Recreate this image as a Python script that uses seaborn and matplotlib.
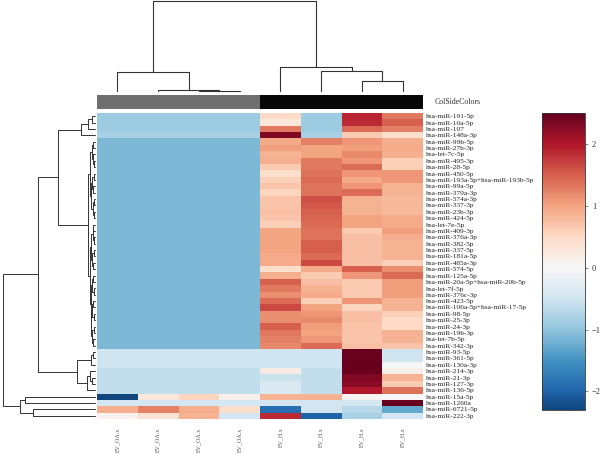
import numpy as np
import pandas as pd
import matplotlib
matplotlib.use("Agg")
import matplotlib.pyplot as plt
from matplotlib.colors import ListedColormap
import seaborn as sns

sns.set_theme(style="white")
plt.rcParams['font.family'] = ['Liberation Serif', 'DejaVu Serif']

samples = ["EV_OA.x", "EV_OA.x", "EV_OA.x", "EV_OA.x", "EV_H.x", "EV_H.x", "EV_H.x", "EV_H.x"]
groups = ["OA", "OA", "OA", "OA", "H", "H", "H", "H"]
group_colors = {"OA": "#6f6f6f", "H": "#070707"}

mirnas = [
    "hsa-miR-191-5p", "hsa-miR-10a-5p", "hsa-miR-107", "hsa-miR-148a-3p",
    "hsa-miR-99b-5p", "hsa-miR-27b-3p", "hsa-let-7c-5p", "hsa-miR-495-3p",
    "hsa-miR-28-5p", "hsa-miR-450-5p", "hsa-miR-193a-5p+hsa-miR-193b-5p",
    "hsa-miR-99a-5p", "hsa-miR-379a-3p", "hsa-miR-574a-3p", "hsa-miR-337-3p",
    "hsa-miR-23b-3p", "hsa-miR-424-5p", "hsa-let-7e-5p", "hsa-miR-409-3p",
    "hsa-miR-376a-3p", "hsa-miR-382-5p", "hsa-miR-337-5p", "hsa-miR-181a-5p",
    "hsa-miR-485a-3p", "hsa-miR-574-5p", "hsa-miR-125a-5p",
    "hsa-miR-20a-5p+hsa-miR-20b-5p", "hsa-let-7f-5p", "hsa-miR-376c-3p",
    "hsa-miR-423-5p", "hsa-miR-106a-5p+hsa-miR-17-5p", "hsa-miR-98-5p",
    "hsa-miR-25-3p", "hsa-miR-24-3p", "hsa-miR-19b-3p", "hsa-let-7b-5p",
    "hsa-miR-342-3p", "hsa-miR-93-5p", "hsa-miR-361-5p", "hsa-miR-130a-3p",
    "hsa-miR-214-3p", "hsa-miR-21-3p", "hsa-miR-127-3p", "hsa-miR-136-5p",
    "hsa-miR-15a-5p", "hsa-miR-1260a", "hsa-miR-6721-5p", "hsa-miR-222-3p",
]

# row z-scores, one list per sample (rows in the order above)
ev_oa_1 = [-0.9, -0.9, -0.9, -0.82,
           -1.1, -1.1, -1.1, -1.1, -1.1, -1.1, -1.1, -1.1, -1.1, -1.1, -1.1,
           -1.1, -1.1, -1.1, -1.1, -1.1, -1.1, -1.1, -1.1, -1.1, -1.1, -1.1,
           -1.1, -1.1, -1.1, -1.1, -1.1, -1.1, -1.1, -1.1, -1.1, -1.1, -1.1,
           -0.5, -0.5, -0.5, -0.6, -0.6, -0.6, -0.6, -2.3, -0.45, 0.9, 0.1]
ev_oa_2 = [-0.9, -0.9, -0.9, -0.82,
           -1.1, -1.1, -1.1, -1.1, -1.1, -1.1, -1.1, -1.1, -1.1, -1.1, -1.1,
           -1.1, -1.1, -1.1, -1.1, -1.1, -1.1, -1.1, -1.1, -1.1, -1.1, -1.1,
           -1.1, -1.1, -1.1, -1.1, -1.1, -1.1, -1.1, -1.1, -1.1, -1.1, -1.1,
           -0.5, -0.5, -0.5, -0.6, -0.6, -0.6, -0.6, 0.3, -0.45, 1.25, 0.35]
ev_oa_3 = [-0.9, -0.9, -0.9, -0.82,
           -1.1, -1.1, -1.1, -1.1, -1.1, -1.1, -1.1, -1.1, -1.1, -1.1, -1.1,
           -1.1, -1.1, -1.1, -1.1, -1.1, -1.1, -1.1, -1.1, -1.1, -1.1, -1.1,
           -1.1, -1.1, -1.1, -1.1, -1.1, -1.1, -1.1, -1.1, -1.1, -1.1, -1.1,
           -0.5, -0.5, -0.5, -0.6, -0.6, -0.6, -0.6, 0.55, -0.45, 0.9, 0.85]
ev_oa_4 = [-0.9, -0.9, -0.9, -0.82,
           -1.1, -1.1, -1.1, -1.1, -1.1, -1.1, -1.1, -1.1, -1.1, -1.1, -1.1,
           -1.1, -1.1, -1.1, -1.1, -1.1, -1.1, -1.1, -1.1, -1.1, -1.1, -1.1,
           -1.1, -1.1, -1.1, -1.1, -1.1, -1.1, -1.1, -1.1, -1.1, -1.1, -1.1,
           -0.5, -0.5, -0.5, -0.6, -0.6, -0.6, -0.6, 0.1, -0.45, 0.45, -0.45]
ev_h_1 = [0.5, 0.3, 1.3, 2.3,
          0.95, 1.05, 0.85, 0.9, 0.65, 0.45, 0.6,
          0.7, 0.55, 0.7, 0.7, 0.75, 0.7, 0.6,
          1.0, 1.0, 1.0, 1.0, 0.95, 0.95,
          0.45, 0.9, 1.5, 1.3, 1.15, 1.4, 1.65, 1.15, 1.15, 1.5, 1.3, 1.25, 1.2,
          -0.5, -0.5, -0.5, 0.2, -0.55, -0.35, -0.35, 0.85, -0.45, -1.9, 1.85]
ev_h_2 = [-0.9, -0.9, -0.9, -0.82,
          1.25, 1.0, 1.0, 1.3, 1.3, 1.35, 1.4,
          1.35, 1.35, 1.6, 1.55, 1.5, 1.45, 1.4,
          1.35, 1.35, 1.5, 1.5, 1.4, 1.65,
          0.95, 0.65, 0.75, 0.85, 0.95, 0.6, 1.0, 1.1, 1.2, 1.05, 1.0, 1.1, 1.4,
          -0.5, -0.5, -0.5, -0.6, -0.6, -0.6, -0.6, 0.85, -0.45, -0.5, -2.0]
ev_h_3 = [1.9, 1.85, 1.4, 0.65,
          1.1, 1.05, 1.2, 1.1, 1.4, 1.1, 0.95,
          1.1, 1.4, 0.85, 0.85, 0.85, 1.0, 1.0,
          0.65, 0.75, 0.75, 0.75, 0.75, 0.75,
          1.5, 1.1, 0.65, 0.65, 0.65, 1.1, 0.55, 0.75, 0.75, 0.7, 0.7, 0.7, 0.75,
          2.5, 2.45, 2.5, 2.45, 2.3, 2.25, 2.0, 0.05, -0.45, -0.7, -0.8]
ev_h_4 = [1.3, 1.5, 1.25, 0.45,
          0.9, 0.95, 0.9, 0.6, 0.6, 1.1, 1.1,
          0.85, 0.85, 0.8, 0.8, 0.8, 0.95, 0.95,
          1.05, 0.9, 0.85, 0.85, 0.85, 0.6,
          1.15, 1.4, 1.05, 1.05, 1.05, 0.85, 0.85, 0.6, 0.5, 0.5, 0.85, 0.85, 0.7,
          -0.5, -0.5, -0.05, 0.15, 0.85, 0.65, 1.35, 0.0, 2.5, -1.3, -0.45]

# dendrograms: (left, right, merge height); leaves are row/column indices
col_tree = ((0, (1, (2, 3, 0.5), 1.0), 19), (4, (5, (6, 7, 10), 20), 24), 91)

top4 = (((0, 1, 3), 2, 7), 3, 14)
big = (((((4, 5, 2), (6, (7, 8, 1.5), 2.5), 3.5),
         (((9, 10, 1.5), (11, 12, 1.8), 2.8), ((13, 14, 1.2), (15, 16, 1.4), 2.2), 3.8), 5),
        ((((17, 18, 1.6), (19, 20, 1.3), 2.4), ((21, 22, 1.1), (23, 24, 1.9), 2.6), 4.0),
         (((25, 26, 2.1), (27, 28, 1.5), 3.0), (((29, 30, 1.7), (31, 32, 1.4), 2.7),
                                                ((33, 34, 1.3), (35, 36, 1.8), 2.9), 3.6), 4.4), 5.5), 7))
upper = (top4, big, 37)
mid = (((37, 38, 2), 39, 4), ((40, (41, 42, 3), 5), 43, 8), 18)
lower = ((44, 45, 70), (46, 47, 62), 75)
row_tree = ((upper, mid, 57), lower, 92)

data = pd.DataFrame({"c1": ev_oa_1, "c2": ev_oa_2, "c3": ev_oa_3, "c4": ev_oa_4,
                     "c5": ev_h_1, "c6": ev_h_2, "c7": ev_h_3, "c8": ev_h_4},
                    index=mirnas)
data.columns = samples


def segments(node):
    if isinstance(node, int):
        return node + 0.5, 0.0, []
    l, r, h = node
    pl, hl, sl = segments(l)
    pr, hr, sr = segments(r)
    return (pl + pr) / 2, h, sl + sr + [([pl, pl, pr, pr], [hl, h, h, hr])]


W, H = 600, 454
fig = plt.figure(figsize=(6.0, 4.54), dpi=100)


def px_axes(x0, y0, x1, y1):
    return fig.add_axes([x0 / W, 1 - y1 / H, (x1 - x0) / W, (y1 - y0) / H])


hm_x0, hm_x1, hm_y0, hm_y1 = 97, 423, 113, 419
ax_hm = px_axes(hm_x0, hm_y0, hm_x1, hm_y1)
ax_cb = px_axes(542, 113, 585, 410)
ax_side = px_axes(hm_x0, 95, hm_x1, 109)
ax_cd = px_axes(hm_x0, 1, hm_x1, 91)
ax_rd = px_axes(3, hm_y0, 95, hm_y1)

sns.heatmap(data, ax=ax_hm, cmap="RdBu_r", center=0, cbar_ax=ax_cb,
            xticklabels=True, yticklabels=True, linewidths=0)
ax_hm.yaxis.tick_right()
ax_hm.set_yticks(np.arange(len(mirnas)) + 0.5)
ax_hm.set_yticklabels(mirnas, rotation=0, fontsize=5.35, color="#222222")
ax_hm.set_xticklabels(samples, rotation=90, fontsize=4.3, color="#555555")
ax_hm.tick_params(axis="y", length=0, pad=2)
ax_hm.tick_params(axis="x", length=0, pad=6)
ax_hm.set_xlabel("")
ax_hm.set_ylabel("")

side = pd.DataFrame([[0 if g == "OA" else 1 for g in groups]])
sns.heatmap(side, ax=ax_side, cmap=ListedColormap([group_colors["OA"], group_colors["H"]]),
            cbar=False, xticklabels=False, yticklabels=False, vmin=0, vmax=1)
ax_side.text(1.035, 0.5, "ColSideColors", transform=ax_side.transAxes,
             va="center", ha="left", fontsize=5.6, color="#333333")

_, croot, csegs = segments(col_tree)
for xs, ys in csegs:
    ax_cd.plot(xs, ys, color="#333333", lw=0.8, clip_on=False)
ax_cd.set_xlim(0, len(samples))
ax_cd.set_ylim(0, croot)
ax_cd.axis("off")

_, rroot, rsegs = segments(row_tree)
for ys, xs in rsegs:
    ax_rd.plot(xs, ys, color="#333333", lw=0.7, clip_on=False)
ax_rd.set_ylim(len(mirnas), 0)
ax_rd.set_xlim(rroot, 0)
ax_rd.axis("off")

cb = ax_hm.collections[0].colorbar
cb.set_ticks([-2, -1, 0, 1, 2])
cb.ax.tick_params(labelsize=6, length=2, width=0.5, color="#555555", pad=3)
cb.outline.set_linewidth(0.6)
cb.outline.set_edgecolor("#333333")
for t in cb.ax.get_yticklabels():
    t.set_color("#333333")

fig.savefig("out.png", dpi=100)
